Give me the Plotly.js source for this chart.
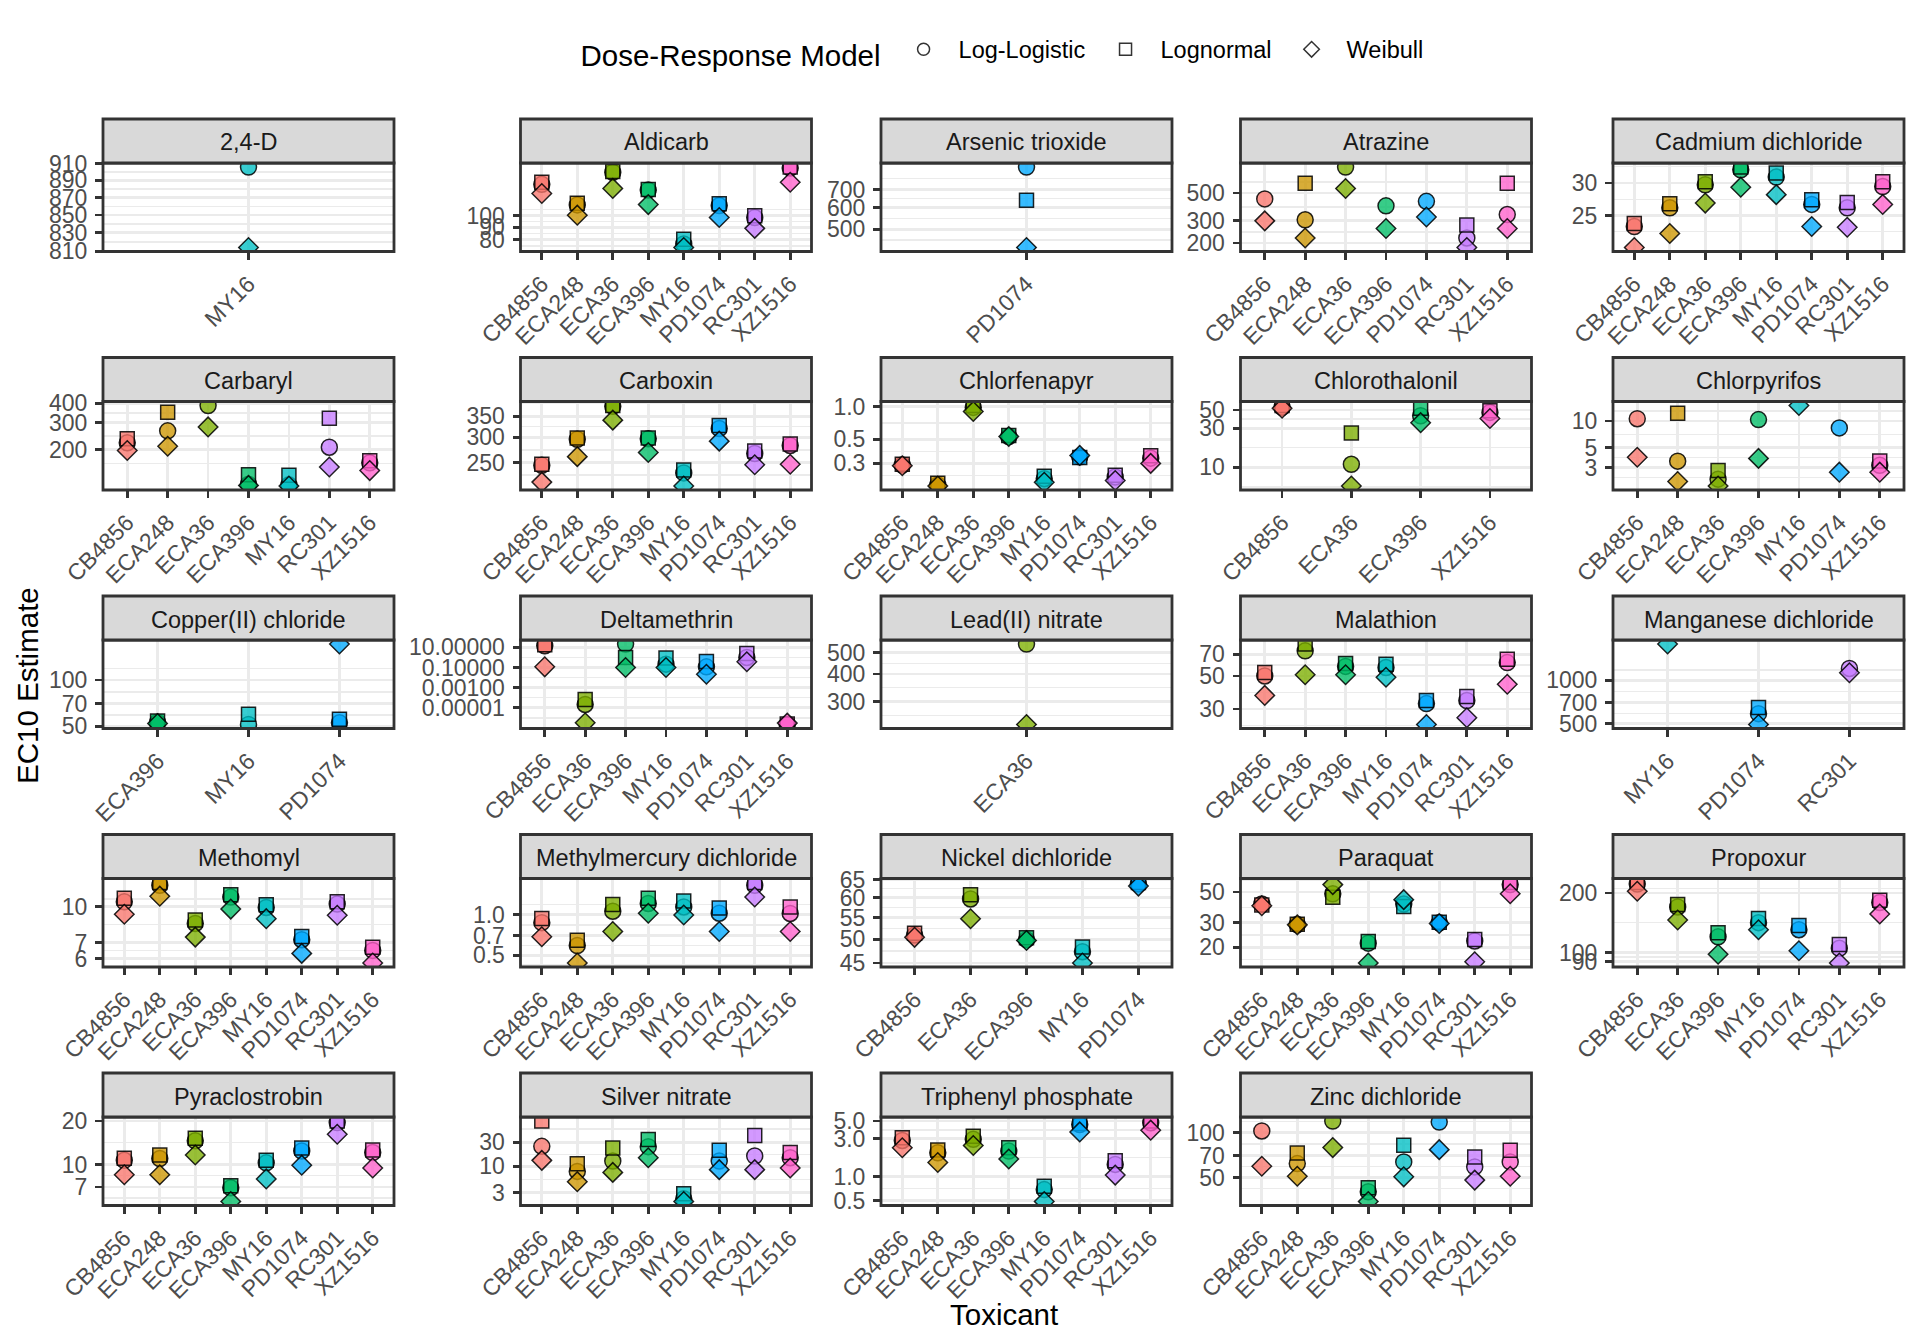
<!DOCTYPE html>
<html><head><meta charset="utf-8">
<script src="https://cdn.plot.ly/plotly-3.0.1.min.js"></script>
<style>html,body{margin:0;padding:0;background:#fff}</style>
</head><body><div id="chart" style="width:1920px;height:1344px"></div>
<script>
// ---------------- DATA ----------------
const MODELS = ['Log-Logistic', 'Lognormal', 'Weibull'];
const STRAINS = ['CB4856','ECA248','ECA36','ECA396','MY16','PD1074','RC301','XZ1516'];

const d24D_strains = ['MY16'];
const d24D_LL = [906]; const d24D_LN = [null]; const d24D_W = [814];
const d24D_ticks = [810,830,850,870,890,910];

const aldicarb_strains = ['CB4856','ECA248','ECA36','ECA396','MY16','PD1074','RC301','XZ1516'];
const aldicarb_LL = [134,110.7,150,127,77,110,98.4,156];
const aldicarb_LN = [136.7,112.5,151,127.8,80.5,111.8,100,157.4];
const aldicarb_W  = [123,100.6,129,111,74.5,98.4,89,136.7];
const aldicarb_ticks = [80,90,100];

const arsenic_strains = ['PD1074'];
const arsenic_LL = [847]; const arsenic_LN = [639]; const arsenic_W = [428];
const arsenic_ticks = [500,600,700];

const atrazine_strains = ['CB4856','ECA248','ECA36','ECA396','PD1074','RC301','XZ1516'];
const atrazine_LL = [449,306,806,395,429,219,337];
const atrazine_LN = [null,597,null,null,null,278,597];
const atrazine_W  = [300,219,543,261,322,184,261];
const atrazine_ticks = [200,300,500];

const cadmium_strains = ['CB4856','ECA248','ECA36','ECA396','MY16','PD1074','RC301','XZ1516'];
const cadmium_LL = [23.5,26.1,29.7,32.3,31.0,26.6,26.1,29.4];
const cadmium_LN = [23.9,26.7,30.2,32.8,31.7,27.3,26.9,30.2];
const cadmium_W  = [20.9,22.6,26.8,29.3,28.1,23.5,23.4,26.6];
const cadmium_ticks = [25,30];

const carbaryl_strains = ['CB4856','ECA248','ECA36','ECA396','MY16','RC301','XZ1516'];
const carbaryl_LL = [222,265,386,120,119,208,165];
const carbaryl_LN = [236,349,null,138,137,319,170];
const carbaryl_W  = [198,211,281,118,117,155,147];
const carbaryl_ticks = [200,300,400];

const carboxin_strains = ['CB4856','ECA248','ECA36','ECA396','MY16','PD1074','RC301','XZ1516'];
const carboxin_LL = [245,296,376,297,232,320,267,283];
const carboxin_LN = [247,299,378,299,237,327,272,286];
const carboxin_W  = [217,261,340,269,211,292,246,247];
const carboxin_ticks = [250,300,350];

const chlorfenapyr_strains = ['CB4856','ECA248','ECA36','ECA396','MY16','PD1074','RC301','XZ1516'];
const chlorfenapyr_LL = [0.29,0.19,0.98,0.53,0.217,0.345,0.225,0.335];
const chlorfenapyr_LN = [0.295,0.197,1.02,0.54,0.228,0.34,0.233,0.353];
const chlorfenapyr_W  = [0.285,0.186,0.90,0.53,0.201,0.355,0.209,0.30];
const chlorfenapyr_ticks = [0.3,0.5,1.0];
const chlorfenapyr_labels = ['0.3','0.5','1.0'];

const chlorothalonil_strains = ['CB4856','ECA36','ECA396','XZ1516'];
const chlorothalonil_LL = [54,10.9,42.5,46.7];
const chlorothalonil_LN = [56.6,26.3,52.5,49];
const chlorothalonil_W  = [52.5,5.94,35,39.3];
const chlorothalonil_ticks = [10,30,50];

const chlorpyrifos_strains = ['CB4856','ECA248','ECA36','ECA396','MY16','PD1074','XZ1516'];
const chlorpyrifos_LL = [10.6,3.55,2.23,10.36,null,8.37,3.19];
const chlorpyrifos_LN = [null,12.2,2.79,null,null,null,3.57];
const chlorpyrifos_W  = [3.92,2.10,1.87,3.81,14.9,2.67,2.67];
const chlorpyrifos_ticks = [3,5,10];

const copper_strains = ['ECA396','MY16','PD1074'];
const copper_LL = [53,51.3,52.6];
const copper_LN = [54,59.8,55.4];
const copper_W  = [52,null,171.5];
const copper_ticks = [50,70,100];

const deltamethrin_strains = ['CB4856','ECA36','ECA396','MY16','PD1074','RC301','XZ1516'];
const deltamethrin_LL = [14.7,2.15e-5,21.5,0.215,0.117,1.0,2.2e-7];
const deltamethrin_LN = [18.5,6.8e-5,1.0,0.86,0.4,2.5,2.5e-7];
const deltamethrin_W  = [0.117,3.2e-7,0.1,0.1,0.0215,0.37,3e-7];
const deltamethrin_ticks = [1e-5,1e-3,0.1,10];
const deltamethrin_labels = ['0.00001','0.00100','0.10000','10.00000'];

const lead_strains = ['ECA36'];
const lead_LL = [547]; const lead_LN = [null]; const lead_W = [236];
const lead_ticks = [300,400,500];

const malathion_strains = ['CB4856','ECA36','ECA396','MY16','PD1074','RC301','XZ1516'];
const malathion_LL = [50,73.8,58,57,32.6,34.2,61.5];
const malathion_LN = [52.7,82,60.7,59.9,34.2,36.4,64.7];
const malathion_W  = [37,51,51,49,23.6,26.2,44];
const malathion_ticks = [30,50,70];

const manganese_strains = ['MY16','PD1074','RC301'];
const manganese_LL = [null,588,1210];
const manganese_LN = [null,648,null];
const manganese_W  = [1786,495,1130];
const manganese_ticks = [500,700,1000];

const methomyl_strains = ['CB4856','ECA248','ECA36','ECA396','MY16','PD1074','RC301','XZ1516'];
const methomyl_LL = [10.5,12.36,8.48,11.0,9.93,7.22,10.27,6.5];
const methomyl_LN = [10.88,12.7,8.77,11.25,10.2,7.46,10.5,6.7];
const methomyl_W  = [9.29,11.1,7.41,9.77,8.89,6.31,9.19,5.74];
const methomyl_ticks = [6,7,10];

const methylmercury_strains = ['CB4856','ECA248','ECA36','ECA396','MY16','PD1074','RC301','XZ1516'];
const methylmercury_LL = [0.872,0.59,1.06,1.21,1.14,1.024,1.65,1.02];
const methylmercury_LN = [0.936,0.646,1.19,1.325,1.26,1.12,1.73,1.14];
const methylmercury_W  = [0.686,0.438,0.75,1.024,0.994,0.75,1.35,0.75];
const methylmercury_ticks = [0.5,0.7,1.0];
const methylmercury_labels = ['0.5','0.7','1.0'];

const nickel_strains = ['CB4856','ECA36','ECA396','MY16','PD1074'];
const nickel_LL = [50.9,59.7,49.9,47.3,63.8];
const nickel_LN = [51.3,60.8,50.3,48.3,64.2];
const nickel_W  = [50.4,54.7,49.7,45,63.2];
const nickel_ticks = [45,50,55,60,65];

const paraquat_strains = ['CB4856','ECA248','ECA36','ECA396','MY16','PD1074','RC301','XZ1516'];
const paraquat_LL = [41,29.2,48.6,21.4,41,30,22.2,56.6];
const paraquat_LN = [40.3,29.3,45.9,22,39.4,30.3,22.7,58.6];
const paraquat_W  = [39.8,29,56.6,15.4,44.1,29.7,15.7,48.6];
const paraquat_ticks = [20,30,50];

const propoxur_strains = ['CB4856','ECA36','ECA396','MY16','PD1074','RC301','XZ1516'];
const propoxur_LL = [222,170,120,141.6,130.4,105,179];
const propoxur_LN = [226,174.8,126,148.5,136.9,109.8,184];
const propoxur_W  = [204,146,98,130.4,102,88.5,156.6];
const propoxur_ticks = [90,100,200];

const pyraclostrobin_strains = ['CB4856','ECA248','ECA36','ECA396','MY16','PD1074','RC301','XZ1516'];
const pyraclostrobin_LL = [10.7,11.0,14.6,6.9,10.27,12.4,19.5,12.1];
const pyraclostrobin_LN = [11.03,11.65,15.2,7.13,10.7,13.0,20,12.6];
const pyraclostrobin_W  = [8.49,8.49,11.65,5.55,7.95,9.9,16.2,9.47];
const pyraclostrobin_ticks = [7,10,20];

const silver_strains = ['CB4856','ECA248','ECA36','ECA396','MY16','PD1074','RC301','XZ1516'];
const silver_LL = [24.9,7.9,12.7,24.5,2.26,12.7,16,14.8];
const silver_LN = [79.2,11.2,23,34,2.86,20.9,41,18.8];
const silver_W  = [13.1,4.95,7.56,14.8,2.0,8.57,8.57,9.27];
const silver_ticks = [3,10,30];

const triphenyl_strains = ['CB4856','ECA248','ECA36','ECA396','MY16','PD1074','RC301','XZ1516'];
const triphenyl_LL = [2.85,2.0,2.95,2.1,0.69,4.52,1.43,4.76];
const triphenyl_LN = [3.09,2.17,3.22,2.31,0.762,4.67,1.59,5.0];
const triphenyl_W  = [2.31,1.51,2.47,1.67,0.49,3.65,1.05,3.84];
const triphenyl_ticks = [0.5,1,3,5];
const triphenyl_labels = ['0.5','1.0','3.0','5.0'];

const zinc_strains = ['CB4856','ECA248','ECA36','ECA396','MY16','PD1074','RC301','XZ1516'];
const zinc_LL = [102.6,62,119.7,40.1,63.6,117.9,58.9,63.6];
const zinc_LN = [null,73.1,null,42.6,82.3,null,68.7,76.1];
const zinc_W  = [59.5,51,79.4,34.5,50.5,76.9,48,51];
const zinc_ticks = [50,70,100];

// ---------------- STYLE ----------------
const STRAIN_COLORS = ['#F8766D','#CD9600','#7CAE00','#00BE67','#00BFC4','#00A9FF','#C77CFF','#FF61CC'];
const FONT = 'Liberation Sans, Arial, Helvetica, sans-serif';
const W = 1920, H = 1344;
const COL_LEFT = [103, 520.5, 881, 1240.5, 1613];
const PANEL_W = 291, PANEL_H = 88.5, STRIP_H = 44, ROW0_TOP = 163, ROW_PITCH = 238.5;

const panels = [
  ['2,4-D', d24D_strains, d24D_LL, d24D_LN, d24D_W, d24D_ticks],
  ['Aldicarb', aldicarb_strains, aldicarb_LL, aldicarb_LN, aldicarb_W, aldicarb_ticks],
  ['Arsenic trioxide', arsenic_strains, arsenic_LL, arsenic_LN, arsenic_W, arsenic_ticks],
  ['Atrazine', atrazine_strains, atrazine_LL, atrazine_LN, atrazine_W, atrazine_ticks],
  ['Cadmium dichloride', cadmium_strains, cadmium_LL, cadmium_LN, cadmium_W, cadmium_ticks],
  ['Carbaryl', carbaryl_strains, carbaryl_LL, carbaryl_LN, carbaryl_W, carbaryl_ticks],
  ['Carboxin', carboxin_strains, carboxin_LL, carboxin_LN, carboxin_W, carboxin_ticks],
  ['Chlorfenapyr', chlorfenapyr_strains, chlorfenapyr_LL, chlorfenapyr_LN, chlorfenapyr_W, chlorfenapyr_ticks, chlorfenapyr_labels],
  ['Chlorothalonil', chlorothalonil_strains, chlorothalonil_LL, chlorothalonil_LN, chlorothalonil_W, chlorothalonil_ticks],
  ['Chlorpyrifos', chlorpyrifos_strains, chlorpyrifos_LL, chlorpyrifos_LN, chlorpyrifos_W, chlorpyrifos_ticks],
  ['Copper(II) chloride', copper_strains, copper_LL, copper_LN, copper_W, copper_ticks],
  ['Deltamethrin', deltamethrin_strains, deltamethrin_LL, deltamethrin_LN, deltamethrin_W, deltamethrin_ticks, deltamethrin_labels],
  ['Lead(II) nitrate', lead_strains, lead_LL, lead_LN, lead_W, lead_ticks],
  ['Malathion', malathion_strains, malathion_LL, malathion_LN, malathion_W, malathion_ticks],
  ['Manganese dichloride', manganese_strains, manganese_LL, manganese_LN, manganese_W, manganese_ticks],
  ['Methomyl', methomyl_strains, methomyl_LL, methomyl_LN, methomyl_W, methomyl_ticks],
  ['Methylmercury dichloride', methylmercury_strains, methylmercury_LL, methylmercury_LN, methylmercury_W, methylmercury_ticks, methylmercury_labels],
  ['Nickel dichloride', nickel_strains, nickel_LL, nickel_LN, nickel_W, nickel_ticks],
  ['Paraquat', paraquat_strains, paraquat_LL, paraquat_LN, paraquat_W, paraquat_ticks],
  ['Propoxur', propoxur_strains, propoxur_LL, propoxur_LN, propoxur_W, propoxur_ticks],
  ['Pyraclostrobin', pyraclostrobin_strains, pyraclostrobin_LL, pyraclostrobin_LN, pyraclostrobin_W, pyraclostrobin_ticks],
  ['Silver nitrate', silver_strains, silver_LL, silver_LN, silver_W, silver_ticks],
  ['Triphenyl phosphate', triphenyl_strains, triphenyl_LL, triphenyl_LN, triphenyl_W, triphenyl_ticks, triphenyl_labels],
  ['Zinc dichloride', zinc_strains, zinc_LL, zinc_LN, zinc_W, zinc_ticks]
];

function fillOf(strain) {
  const hex = STRAIN_COLORS[STRAINS.indexOf(strain)];
  const r = parseInt(hex.slice(1,3),16), g = parseInt(hex.slice(3,5),16), b = parseInt(hex.slice(5,7),16);
  return 'rgba(' + r + ',' + g + ',' + b + ',0.78)';
}
function minorBreaks(majLog, lim) {
  let b = majLog.filter(v => v >= lim[0] && v <= lim[1]).sort((a, c) => a - c);
  if (b.length < 2) return [];
  const bd = b[1] - b[0];
  if (lim[0] < b[0]) b.unshift(b[0] - bd);
  if (lim[1] > b[b.length - 1]) b.push(b[b.length - 1] + bd);
  const out = [];
  for (let i = 0; i < b.length - 1; i++) {
    const m = (b[i] + b[i + 1]) / 2;
    if (m >= lim[0] && m <= lim[1]) out.push(Math.pow(10, m));
  }
  return out;
}

const SYMBOLS = ['circle', 'square', 'diamond'];
const SIZES = [16, 14, 15];
const traces = [];
const layout = {
  width: W, height: H, margin: {l: 0, r: 0, t: 0, b: 0},
  paper_bgcolor: '#fff', plot_bgcolor: '#fff',
  font: {family: FONT, color: '#000'},
  showlegend: true,
  legend: {
    orientation: 'h', x: 1003.5 / W, xanchor: 'center', y: 1 - 52 / H, yanchor: 'middle',
    title: {text: 'Dose-Response Model', side: 'left', font: {size: 29.5, color: '#000', family: FONT}},
    font: {size: 23.5, color: '#000', family: FONT}, itemwidth: 60, bgcolor: 'rgba(0,0,0,0)'
  },
  shapes: [], annotations: []
};

panels.forEach((p, i) => {
  const [name, strains, ll, ln, wb, ticks, labels] = p;
  const n = i + 1, sfx = n === 1 ? '' : String(n);
  const r = Math.floor(i / 5), c = i % 5;
  const left = COL_LEFT[c], top = ROW0_TOP + ROW_PITCH * r, bottom = top + PANEL_H;
  const series = [ll, ln, wb];
  series.forEach((vals, m) => {
    traces.push({
      type: 'scatter', mode: 'markers', x: strains, y: vals,
      xaxis: 'x' + sfx, yaxis: 'y' + sfx, name: MODELS[m], showlegend: false,
      marker: {symbol: SYMBOLS[m], size: SIZES[m], color: strains.map(fillOf),
               line: {color: 'rgba(0,0,0,0.85)', width: 1.5}},
      cliponaxis: true, hoverinfo: 'x+y+name'
    });
  });
  const all = [].concat(ll, ln, wb).filter(v => v != null && v > 0).map(v => Math.log10(v));
  const lo = Math.min(...all), hi = Math.max(...all), d = hi - lo;
  const lim = [lo - 0.05 * d, hi + 0.05 * d];
  const tickFont = {family: FONT, size: 23, color: '#4D4D4D'};
  layout['xaxis' + sfx] = {
    domain: [left / W, (left + PANEL_W) / W], anchor: 'y' + sfx,
    type: 'category', categoryorder: 'array', categoryarray: strains,
    range: [-0.6, strains.length - 0.4], tickmode: 'array', tickvals: strains, ticktext: strains,
    tickangle: -45, ticks: 'outside', ticklen: 7, tickwidth: 2.8, tickcolor: '#333333',
    ticklabelstandoff: 2,
    showgrid: true, gridcolor: '#EBEBEB', gridwidth: 2.8, zeroline: false, showline: false,
    tickfont: tickFont, fixedrange: true
  };
  layout['yaxis' + sfx] = {
    domain: [1 - bottom / H, 1 - top / H], anchor: 'x' + sfx, type: 'log', range: lim,
    tickmode: 'array', tickvals: ticks, ticktext: labels || ticks.map(String),
    ticks: 'outside', ticklen: 7, tickwidth: 2.8, tickcolor: '#333333', ticklabelstandoff: 3,
    showgrid: true, gridcolor: '#EBEBEB', gridwidth: 2.8, zeroline: false, showline: false,
    minor: {tickmode: 'array', tickvals: minorBreaks(ticks.map(v => Math.log10(v)), lim),
            showgrid: true, gridcolor: '#EBEBEB', gridwidth: 1.4, ticks: ''},
    tickfont: tickFont, fixedrange: true
  };
  // panel border
  layout.shapes.push({type: 'rect', xref: 'paper', yref: 'paper', layer: 'above',
    x0: left / W, x1: (left + PANEL_W) / W, y0: 1 - bottom / H, y1: 1 - top / H,
    line: {color: '#333333', width: 2.8}, fillcolor: 'rgba(0,0,0,0)'});
  // strip
  layout.shapes.push({type: 'rect', xref: 'paper', yref: 'paper', layer: 'above',
    x0: left / W, x1: (left + PANEL_W) / W, y0: 1 - top / H, y1: 1 - (top - STRIP_H) / H,
    line: {color: '#333333', width: 2.8}, fillcolor: '#D9D9D9'});
  layout.annotations.push({xref: 'paper', yref: 'paper', x: (left + PANEL_W / 2) / W,
    y: 1 - (top - STRIP_H / 2 + 1.5) / H, text: name, showarrow: false, xanchor: 'center', yanchor: 'middle',
    font: {family: FONT, size: 23.5, color: '#1A1A1A'}});
});

// legend entries (hollow keys)
MODELS.forEach((m, k) => {
  traces.push({type: 'scatter', mode: 'markers', x: [null], y: [null], xaxis: 'x', yaxis: 'y',
    name: m, showlegend: true,
    marker: {symbol: SYMBOLS[k], size: 12, color: 'rgba(0,0,0,0)', line: {color: '#333333', width: 1.5}}});
});

layout.annotations.push({xref: 'paper', yref: 'paper', x: 27 / W, y: 1 - 686 / H,
  text: 'EC10 Estimate', textangle: -90, showarrow: false, xanchor: 'center', yanchor: 'middle',
  font: {family: FONT, size: 29.5, color: '#000'}});
layout.annotations.push({xref: 'paper', yref: 'paper', x: 1003.5 / W, y: 1 - 1314 / H,
  text: 'Toxicant', showarrow: false, xanchor: 'center', yanchor: 'middle',
  font: {family: FONT, size: 29.5, color: '#000'}});

Plotly.newPlot('chart', traces, layout, {staticPlot: true, displayModeBar: false});
</script></body></html>
